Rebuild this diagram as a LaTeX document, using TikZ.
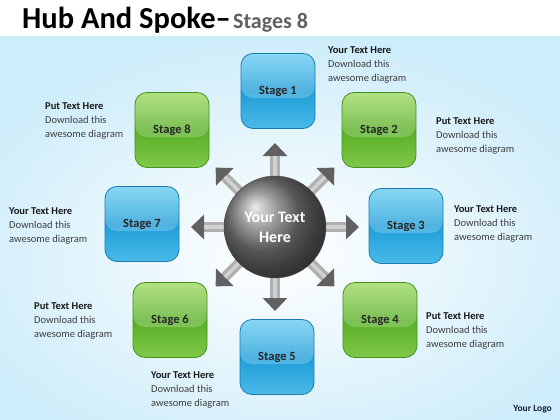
\documentclass[tikz,border=0pt]{standalone}
\usepackage{fontspec}
\setmainfont{Carlito}
\usetikzlibrary{arrows.meta}

\definecolor{bgblue}{RGB}{206,237,250}
\definecolor{boxblue}{RGB}{30,158,216}
\definecolor{boxbluetop}{RGB}{104,204,242}
\definecolor{boxblueline}{RGB}{26,124,178}
\definecolor{boxgreen}{RGB}{88,176,38}
\definecolor{boxgreentop}{RGB}{156,216,96}
\definecolor{boxgreenline}{RGB}{66,146,28}
\definecolor{txtgray}{RGB}{62,62,62}
\definecolor{logoblue}{RGB}{20,30,50}

\begin{document}
\begin{tikzpicture}[x=1pt,y=-1pt,
  stagebox/.style={rounded corners=12pt, minimum width=74pt, minimum height=75pt,
    draw=#1line, line width=0.8pt, top color=#1top, bottom color=#1top!60!#1,
    middle color=#1, text=black!85,
    font=\fontsize{12.5}{14}\selectfont\bfseries,
    path picture={\fill[white,opacity=0.22]
      (path picture bounding box.north west) rectangle
      ([yshift=-7pt]path picture bounding box.east);}},
  infotxt/.style={anchor=north west, inner sep=0pt, align=left, text=txtgray,
    font=\fontsize{10.5}{14.2}\selectfont},
  spoke/.style={line width=10pt, draw=gray!62,
    -{Triangle[width=24pt,length=13pt,color=black!62]}},
  spokeshine/.style={line width=3.5pt, draw=gray!35, shorten >=13pt},
  hubball/.style={circle, minimum size=102pt, ball color=black!52, draw=black!70,
    text=white, align=center, font=\fontsize{16}{20}\selectfont\bfseries}]

\useasboundingbox (0,0) rectangle (560,420);
% background
\fill[white] (0,0) rectangle (560,420);
\shade[inner color=white, outer color=bgblue] (-60,37) rectangle (620,470);

% title
\node[anchor=base west, inner sep=0pt] (title) at (22,29)
  {\fontsize{30.5}{32}\selectfont\bfseries Hub And Spoke–};
\node[anchor=base west, inner sep=0pt, text=black!62] (subtitle) at ([xshift=2pt]title.base east)
  {\fontsize{22}{26}\selectfont\bfseries Stages 8};

% spokes
\coordinate (hubc) at (275,227);
\foreach \a [count=\i] in {0,45,...,315} {
  \path (hubc) ++(\a:84) coordinate (tip\i);
  \draw[spoke] (hubc) -- (tip\i);
  \draw[spokeshine] (hubc) -- (tip\i);
}

% hub
\node[hubball] (hub) at (hubc) {Your Text\\Here};

% stages
\foreach \n/\px/\py/\c in {1/278/91/boxblue, 2/379/130/boxgreen,
    3/406/226/boxblue, 4/380/320/boxgreen, 5/277/357/boxblue,
    6/170/320/boxgreen, 7/142/224/boxblue, 8/172/130/boxgreen}
  \node[stagebox=\c] (s\n) at (\px,\py) {Stage \n};

% texts
\foreach \n/\px/\py/\head in {1/328/46/Your Text Here, 2/436/117/Put Text Here,
    3/454/205/Your Text Here, 4/426/312/Put Text Here, 5/151/371/Your Text Here,
    6/34/302/Put Text Here, 7/9/207/Your Text Here, 8/45/102/Put Text Here}
  \node[infotxt] (t\n) at (\px,\py)
    {\textbf{\textcolor{black!90}{\head}}\\Download this\\awesome diagram};

% logo
\node[anchor=base east, inner sep=0pt, text=logoblue] (logo) at (552,411)
  {\fontsize{9.5}{11}\selectfont\bfseries Your Logo};

\end{tikzpicture}
\end{document}
